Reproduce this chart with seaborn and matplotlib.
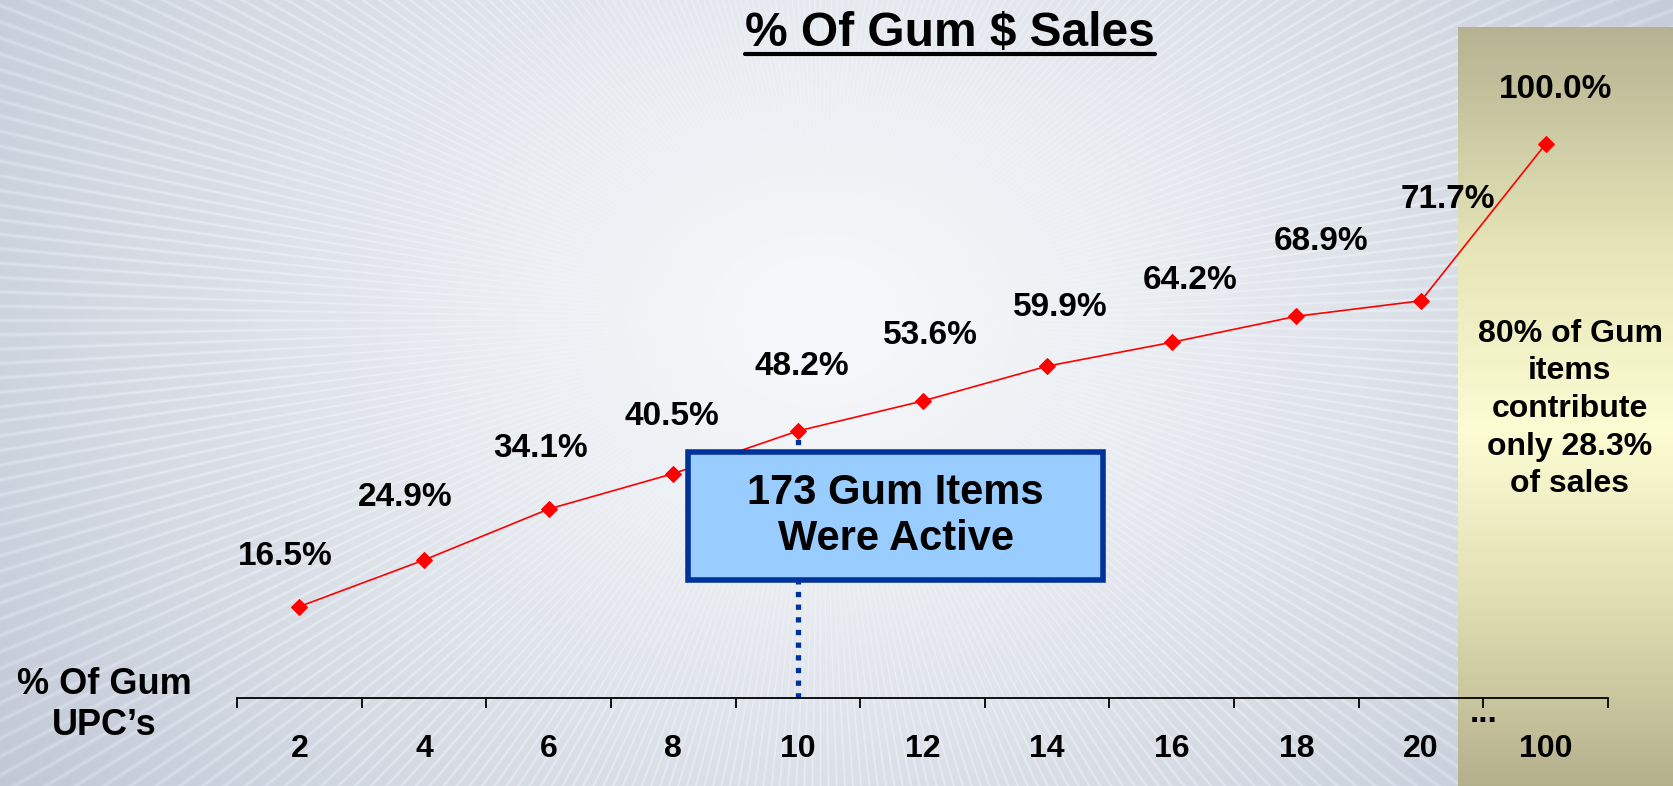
import numpy as np
import matplotlib
matplotlib.use("Agg")
import matplotlib.pyplot as plt
from matplotlib.patches import Rectangle
import seaborn as sns

# Cumulative share of gum dollar sales by share of gum UPCs
upc_share = ["2", "4", "6", "8", "10", "12", "14", "16", "18", "20", "100"]
sales_share = [16.5, 24.9, 34.1, 40.5, 48.2, 53.6, 59.9, 64.2, 68.9, 71.7, 100.0]
active_items = 173

title = "% Of Gum $ Sales"
x_title = "% Of Gum\nUPC\u2019s"
box_text = f"{active_items} Gum Items\nWere Active"
panel_text = "80% of Gum\nitems\ncontribute\nonly 28.3%\nof sales"

# label offsets from each point, in pixels (dx, dy upward)
label_dx = [-14, -19, -8, -1, 4, 8, 13, 18, 25, 27, 10]
label_dy = [50, 63, 61, 57, 64, 66, 59, 62, 75, 101, 54]

sns.set_theme(style="white")
plt.rcParams["font.family"] = ["Liberation Sans", "DejaVu Sans"]
plt.rcParams["font.weight"] = "bold"
plt.rcParams["text.color"] = "black"
plt.rcParams["xtick.color"] = "black"
plt.rcParams["xtick.labelcolor"] = "black"

W, H = 1673, 786
DPI = 100
fig = plt.figure(figsize=(W / DPI, H / DPI), dpi=DPI)

# ---- background: soft radial gradient with faint rays ----
yy, xx = np.mgrid[0:H, 0:W].astype(float)
cx, cy = 820.0, 320.0
dx, dy = xx - cx, yy - cy
r = np.hypot(dx, dy * 1.3)
t = np.clip(r / 1000.0, 0, 1) ** 1.3
c_mid = np.array([0.965, 0.972, 0.980])
c_edge = np.array([0.76, 0.79, 0.84])
bg = c_mid + (c_edge - c_mid) * t[..., None]
theta = np.arctan2(dy, dx)
rays = (0.5 + 0.5 * np.cos(theta * 360)) ** 6
fade = np.clip((r - 150) / 500.0, 0, 1)
bg = np.clip(bg + 0.05 * (rays * fade)[..., None], 0, 1)

ax_bg = fig.add_axes([0, 0, 1, 1], zorder=-10)
ax_bg.imshow(bg, extent=(0, W, H, 0), aspect="auto", interpolation="bilinear")

# khaki highlight panel on the right
p_top, p_left = 27, 1458
rows = np.arange(p_top, H, dtype=float)
stops_y = [p_top, 250, 430, 600, H]
stops_c = np.array([[0.71, 0.70, 0.57], [0.90, 0.90, 0.72], [0.99, 0.99, 0.83],
                    [0.88, 0.87, 0.70], [0.71, 0.69, 0.55]])
grad = np.stack([np.interp(rows, stops_y, stops_c[:, k]) for k in range(3)], axis=-1)
panel = np.repeat(grad[:, None, :], 2, axis=1)
ax_bg.imshow(panel, extent=(p_left, W, H, p_top), aspect="auto", interpolation="bilinear")
ax_bg.set_xlim(0, W)
ax_bg.set_ylim(H, 0)
ax_bg.axis("off")

# ---- main chart ----
ax_left, ax_right, ax_base = 237, 1608, 698
px_per_pct = 5.54
y_top = 121.0
ax_h = y_top * px_per_pct
ax = fig.add_axes([ax_left / W, (H - ax_base) / H, (ax_right - ax_left) / W, ax_h / H])
ax.patch.set_alpha(0)

xpos = np.arange(len(upc_share))
sns.lineplot(x=xpos, y=sales_share, ax=ax, color="#ff0000", linewidth=1.2,
             marker="D", markersize=8, markeredgecolor="#ff0000", zorder=3)

ax.set_xlim(-0.5, len(upc_share) - 0.5)
ax.set_ylim(0, y_top)

# boundary ticks (major) and centred category labels (minor)
ax.set_xticks(np.arange(-0.5, len(upc_share), 1.0))
ax.set_xticklabels([])
ax.set_xticks(xpos, minor=True)
ax.set_xticklabels(upc_share, minor=True, fontsize=23, fontweight="bold", color="black")
ax.tick_params(axis="x", which="major", length=7.2, width=1.3, color="black",
               direction="out", bottom=True)
ax.tick_params(axis="x", which="minor", length=0, pad=26)
ax.set_yticks([])
ax.set_xlabel("")
ax.set_ylabel("")
for side in ["left", "top", "right"]:
    ax.spines[side].set_visible(False)
ax.spines["bottom"].set_color("black")
ax.spines["bottom"].set_linewidth(1.3)
ax.grid(False)

# break marker between 20 and 100
ax.text(9.5, -4.3, "...", ha="center", va="baseline", fontsize=24,
        fontweight="bold", color="black", clip_on=False)

# value labels
for x, v, ddx, ddy in zip(xpos, sales_share, label_dx, label_dy):
    ax.annotate(f"{v:.1f}%", xy=(x, v), xytext=(ddx * 0.72, ddy * 0.72),
                textcoords="offset points", ha="center", va="center",
                fontsize=24, fontweight="bold", color="black",
                annotation_clip=False, zorder=5)

# dotted marker from the 10% point to the axis
i10 = upc_share.index("10")
ax.vlines(i10, 0, sales_share[i10], colors="#003399", linewidth=3.8,
          linestyles=(0, (1, 1.4)), capstyle="butt", zorder=2)

# call-out box
bx0, bx1 = 3.12, 6.45
by0, by1 = 21.3, 44.4
ax.add_patch(Rectangle((bx0, by0), bx1 - bx0, by1 - by0, facecolor="#99ccff",
                       edgecolor="#003399", linewidth=4, zorder=6))
ax.text((bx0 + bx1) / 2, (by0 + by1) / 2, box_text, ha="center", va="center",
        fontsize=30, fontweight="bold", color="black", linespacing=1.2, zorder=7)

# title with underline
ttl = fig.text(950 / W, 1 - 46 / H, title, ha="center", va="baseline",
               fontsize=34.5, fontweight="bold", color="black")
fig.canvas.draw()
bb = ttl.get_window_extent(fig.canvas.get_renderer())
uy = 1 - 54 / H
fig.add_artist(plt.Line2D([bb.x0 / W, bb.x1 / W], [uy, uy], color="black",
                          linewidth=3, transform=fig.transFigure))

# axis caption on the left
fig.text(104 / W, 1 - 705 / H, x_title, ha="center", va="center",
         fontsize=26, fontweight="bold", color="black", linespacing=1.22)

# panel note
fig.text(1570 / W, 1 - 409 / H, panel_text, ha="center", va="center",
         fontsize=23, fontweight="bold", color="black", linespacing=1.33)

fig.savefig("out.png", dpi=DPI)
